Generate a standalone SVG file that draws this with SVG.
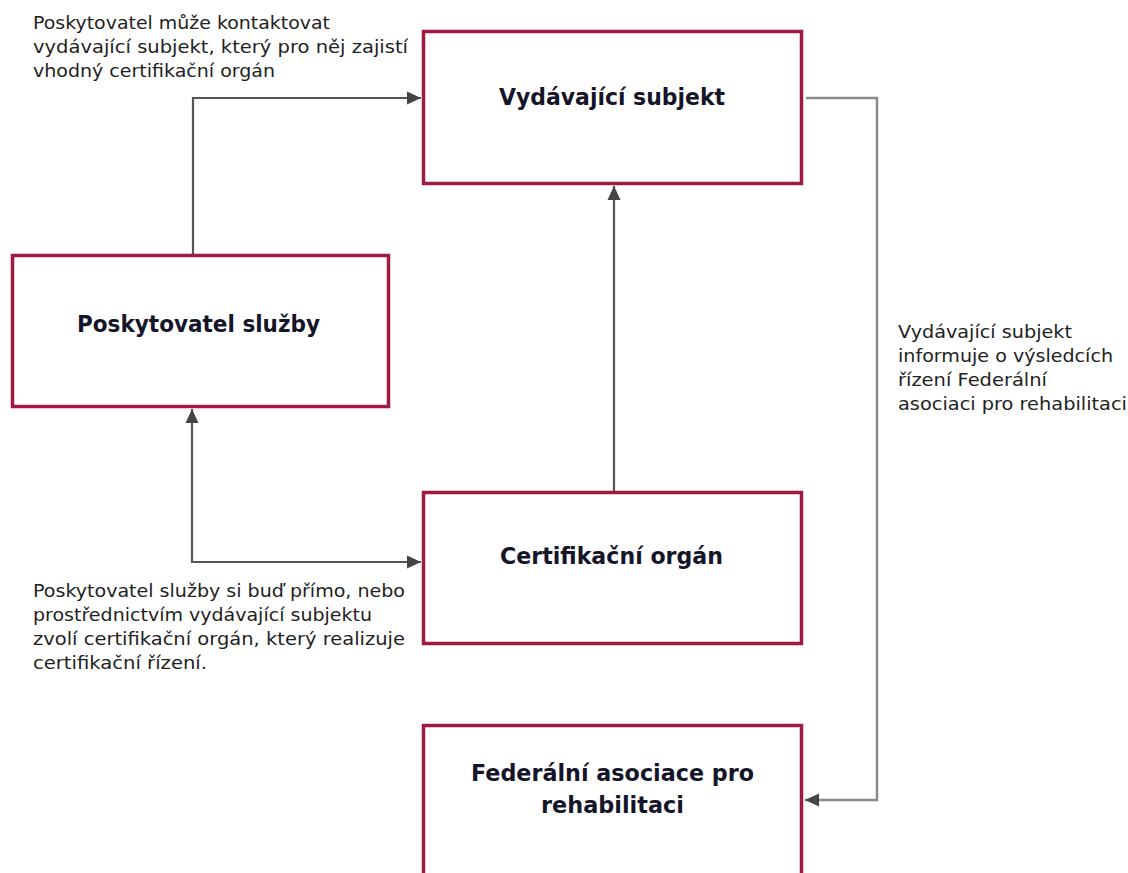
<svg xmlns="http://www.w3.org/2000/svg" width="1128" height="873" viewBox="0 0 1128 873">
<style>
.box{fill:#fff;stroke:#9e1a40;stroke-width:3.5}
.t{font-family:"DejaVu Sans",sans-serif;font-weight:bold;font-size:23px;fill:#15152a;text-anchor:middle}
.l{font-family:"DejaVu Sans",sans-serif;font-size:17.5px;fill:#222}
.c{fill:none;stroke:#555;stroke-width:2.2}
.c2{fill:none;stroke:#8a8a8a;stroke-width:2.5}
</style>
<defs>
<marker id="ah" markerUnits="userSpaceOnUse" markerWidth="15" markerHeight="15" viewBox="0 0 15 15" refX="14" refY="7.5" orient="auto-start-reverse">
<path d="M0,1 L14,7.5 L0,14 Z" fill="#444"/>
</marker>
</defs>
<rect width="1128" height="873" fill="#fff"/>
<g id="connectors">
<path class="c" d="M193,255 V98 H421" marker-end="url(#ah)"/>
<path class="c" d="M614,492 V186" marker-end="url(#ah)"/>
<path class="c" d="M192,409 V562 H421" marker-start="url(#ah)" marker-end="url(#ah)"/>
<path class="c2" d="M806,98 H877 V800 H805" marker-end="url(#ah)"/>
</g>
<g id="node-vydavajici">
<rect class="box" x="423.5" y="31.5" width="378" height="152"/>
<text class="t" x="612" y="105" textLength="226" lengthAdjust="spacingAndGlyphs">Vydávající subjekt</text>
</g>
<g id="node-poskytovatel">
<rect class="box" x="12.5" y="255.5" width="376" height="151"/>
<text class="t" x="198.5" y="332" textLength="243" lengthAdjust="spacingAndGlyphs">Poskytovatel služby</text>
</g>
<g id="node-certifikacni">
<rect class="box" x="423.5" y="492.5" width="378" height="151"/>
<text class="t" x="611.5" y="564" textLength="223" lengthAdjust="spacingAndGlyphs">Certifikační orgán</text>
</g>
<g id="node-federalni">
<rect class="box" x="423.5" y="725.5" width="378" height="160"/>
<text class="t" x="612.5" y="781" textLength="283" lengthAdjust="spacingAndGlyphs">Federální asociace pro</text>
<text class="t" x="612.5" y="813" textLength="143" lengthAdjust="spacingAndGlyphs">rehabilitaci</text>
</g>
<g id="label-top">
<text class="l" x="33" y="29" textLength="297" lengthAdjust="spacingAndGlyphs">Poskytovatel může kontaktovat</text>
<text class="l" x="33" y="53" textLength="375" lengthAdjust="spacingAndGlyphs">vydávající subjekt, který pro něj zajistí</text>
<text class="l" x="33" y="77" textLength="242" lengthAdjust="spacingAndGlyphs">vhodný certifikační orgán</text>
</g>
<g id="label-bottom">
<text class="l" x="33" y="597" textLength="372" lengthAdjust="spacingAndGlyphs">Poskytovatel služby si buď přímo, nebo</text>
<text class="l" x="33" y="621" textLength="339" lengthAdjust="spacingAndGlyphs">prostřednictvím vydávající subjektu</text>
<text class="l" x="33" y="645" textLength="372" lengthAdjust="spacingAndGlyphs">zvolí certifikační orgán, který realizuje</text>
<text class="l" x="33" y="669" textLength="174" lengthAdjust="spacingAndGlyphs">certifikační řízení.</text>
</g>
<g id="label-right">
<text class="l" x="898" y="338" textLength="174" lengthAdjust="spacingAndGlyphs">Vydávající subjekt</text>
<text class="l" x="898" y="362" textLength="215" lengthAdjust="spacingAndGlyphs">informuje o výsledcích</text>
<text class="l" x="898" y="386" textLength="149" lengthAdjust="spacingAndGlyphs">řízení Federální</text>
<text class="l" x="898" y="410" textLength="229" lengthAdjust="spacingAndGlyphs">asociaci pro rehabilitaci</text>
</g>
</svg>
